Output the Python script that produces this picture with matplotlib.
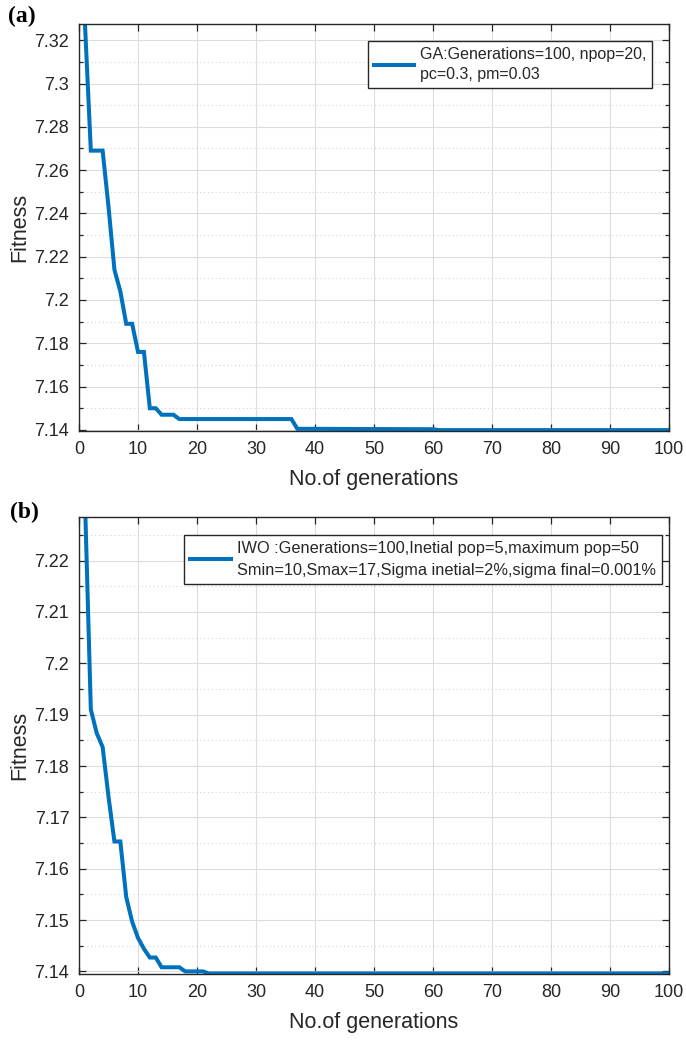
import numpy as np
import matplotlib.pyplot as plt
from matplotlib.ticker import MultipleLocator, FuncFormatter

# GA convergence (best fitness per generation, breakpoints of the curve)
ga_gen = [1, 2, 4, 5, 6, 7, 8, 9, 10, 11, 12, 13, 14, 16, 17, 36, 37, 60, 61, 100]
ga_fit = [7.328, 7.269, 7.269, 7.243, 7.214, 7.204, 7.189, 7.189, 7.176, 7.176,
          7.150, 7.150, 7.147, 7.147, 7.145, 7.145, 7.1405, 7.1403, 7.1399, 7.1399]
ga_label = 'GA:Generations=100, npop=20,\npc=0.3, pm=0.03'

# IWO convergence
iwo_gen = [1, 2, 3, 4, 5, 6, 7, 8, 9, 10, 11, 12, 13, 14, 17, 18, 21, 22, 40, 100]
iwo_fit = [7.232, 7.191, 7.1864, 7.1837, 7.1740, 7.1653, 7.1653, 7.1545, 7.1497, 7.1465,
           7.1444, 7.1427, 7.1427, 7.1408, 7.1408, 7.1400, 7.1400, 7.1396, 7.1396, 7.1396]
iwo_label = ('IWO :Generations=100,Inetial pop=5,maximum pop=50\n'
             'Smin=10,Smax=17,Sigma inetial=2%,sigma final=0.001%')

plt.rcParams['font.family'] = ['Liberation Sans', 'DejaVu Sans']
LINE = '#0072BD'
DARK = '#262626'

fig = plt.figure(figsize=(6.86, 10.43), dpi=100)
ax_a = fig.add_axes([0.1152, 0.5868, 0.8600, 0.3902])
ax_b = fig.add_axes([0.1152, 0.0662, 0.8600, 0.4381])


def style_axes(ax, ylim, ymajor, legend_anchor, label, x, y, spacing, legsize):
    ax.plot(x, y, color=LINE, linewidth=2.9, label=label, solid_joinstyle='miter')
    ax.set_xlim(0, 100)
    ax.set_ylim(*ylim)
    ax.xaxis.set_major_locator(MultipleLocator(10))
    ax.yaxis.set_major_locator(MultipleLocator(ymajor))
    ax.yaxis.set_minor_locator(MultipleLocator(ymajor / 2))
    ax.yaxis.set_major_formatter(FuncFormatter(lambda v, p: '%g' % round(v, 4)))
    ax.tick_params(which='both', direction='in', top=True, right=True,
                   colors=DARK, labelsize=13, width=0.9)
    ax.tick_params(which='major', length=5, pad=7)
    ax.tick_params(which='minor', length=3)
    ax.tick_params(axis='x', which='minor', bottom=False, top=False)
    ax.grid(True, which='major', color='#dcdcdc', linewidth=0.8)
    ax.grid(True, which='minor', axis='y', color='#d4d4d4', linewidth=0.8,
            linestyle=(0, (1, 2.5)))
    ax.set_axisbelow(True)
    for s in ax.spines.values():
        s.set_color(DARK)
        s.set_linewidth(1.0)
    ax.set_xlabel('No.of generations', fontsize=15.5, color=DARK, labelpad=8)
    ax.set_ylabel('Fitness', fontsize=15.5, color=DARK, labelpad=3)
    leg = ax.legend(loc='upper right', bbox_to_anchor=legend_anchor, borderaxespad=0,
                    fancybox=False, edgecolor=DARK, framealpha=1, fontsize=legsize,
                    handlelength=2.5, handletextpad=0.4, borderpad=0.35)
    leg.get_frame().set_linewidth(1.0)
    for t in leg.get_texts():
        t.set_linespacing(spacing)
        t.set_color(DARK)


style_axes(ax_a, (7.1395, 7.3275), 0.02, (0.971, 0.958), ga_label, ga_gen, ga_fit, 1.45, 11.5)
style_axes(ax_b, (7.1395, 7.2285), 0.01, (0.988, 0.961), iwo_label, iwo_gen, iwo_fit, 1.6, 11.8)

fig.text(0.011, 0.994, '(a)', fontsize=17, fontweight='bold',
         family=['Liberation Serif', 'DejaVu Serif'], va='top')
fig.text(0.014, 0.519, '(b)', fontsize=17, fontweight='bold',
         family=['Liberation Serif', 'DejaVu Serif'], va='top')

fig.savefig('out.png', dpi=100)
